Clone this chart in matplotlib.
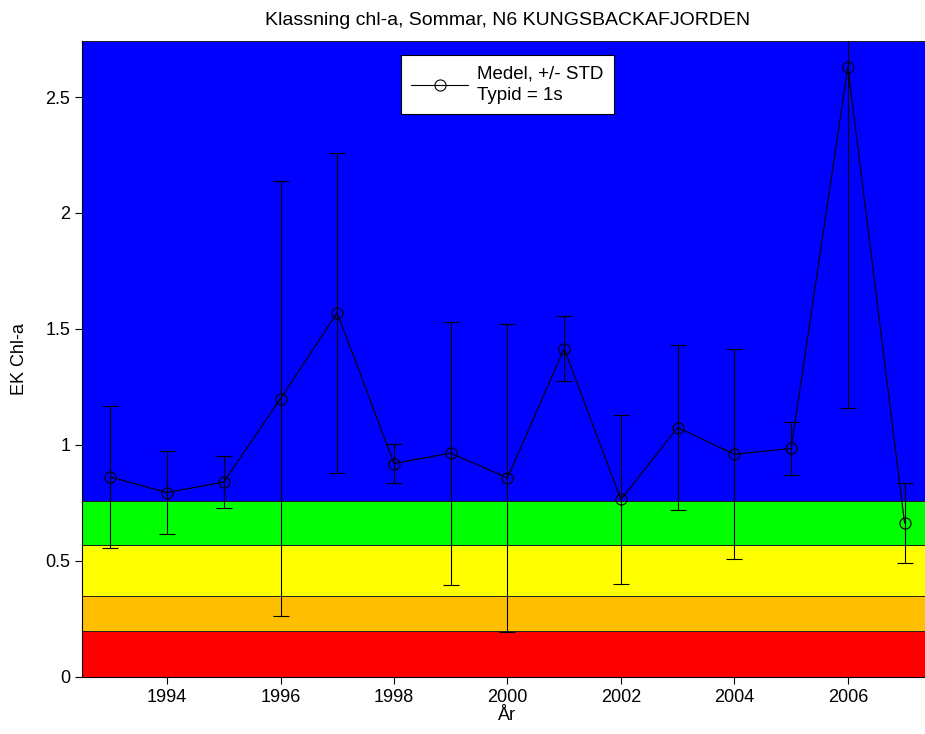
import matplotlib
matplotlib.use("Agg")
import matplotlib.pyplot as plt
from matplotlib.lines import Line2D

plt.rcParams["font.family"] = ["Liberation Sans", "DejaVu Sans"]

# Yearly mean and standard deviation of EK chl-a
years = [1993, 1994, 1995, 1996, 1997, 1998, 1999, 2000,
         2001, 2002, 2003, 2004, 2005, 2006, 2007]
means = [0.862, 0.795, 0.840, 1.200, 1.570, 0.920, 0.965, 0.858,
         1.415, 0.765, 1.075, 0.960, 0.985, 2.630, 0.663]
stds = [0.306, 0.180, 0.113, 0.936, 0.690, 0.083, 0.567, 0.664,
        0.140, 0.365, 0.355, 0.453, 0.114, 1.470, 0.173]

# Status class boundaries (bad -> high)
band_edges = [0.0, 0.20, 0.35, 0.57, 0.76, 2.74]
band_colors = ["#ff0000", "#ffbf00", "#ffff00", "#00ff00", "#0000ff"]

x_ticks = [1994, 1996, 1998, 2000, 2002, 2004, 2006]
y_ticks = [0, 0.5, 1, 1.5, 2, 2.5]
y_ticklabels = ["0", "0.5", "1", "1.5", "2", "2.5"]

fig = plt.figure(figsize=(9.25, 7.34), dpi=100)
ax = fig.add_axes([0.0886, 0.0777, 0.920, 0.866])

for lo, hi, c in zip(band_edges[:-1], band_edges[1:], band_colors):
    ax.axhspan(lo, hi, facecolor=c, edgecolor="#202020", lw=0.7, zorder=0)

ax.errorbar(years, means, yerr=stds, color="black", lw=0.8,
            marker="o", ms=8, mfc="none", mec="black", mew=0.8,
            ecolor="black", elinewidth=0.8, capsize=6, capthick=0.8,
            zorder=3)

ax.set_xlim(1992.5, 2007.5)
ax.set_ylim(0, 2.74)
ax.set_xticks(x_ticks)
ax.set_yticks(y_ticks)
ax.set_yticklabels(y_ticklabels)
ax.tick_params(direction="out", length=5, width=0.8, labelsize=13,
               top=False, right=False)
for side in ("top", "right"):
    ax.spines[side].set_visible(False)

ax.set_xlabel("År", fontsize=13, labelpad=1)
ax.set_ylabel("EK Chl-a", fontsize=13, labelpad=12)
ax.set_title("Klassning chl-a, Sommar, N6 KUNGSBACKAFJORDEN",
             fontsize=14, pad=12)

handle = Line2D([], [], color="black", lw=0.8, marker="o", ms=8,
                mfc="none", mec="black", mew=0.8)
leg = ax.legend([handle], ["Medel, +/- STD\nTypid = 1s"],
                loc="upper center", bbox_to_anchor=(0.5, 0.978),
                borderaxespad=0, fontsize=13.5, frameon=True,
                fancybox=False, framealpha=1, edgecolor="black",
                handlelength=3, borderpad=0.55, handletextpad=0.5)
leg.get_texts()[0].set_linespacing(1.35)
leg.get_frame().set_linewidth(0.8)

fig.savefig("out.png", dpi=100)
